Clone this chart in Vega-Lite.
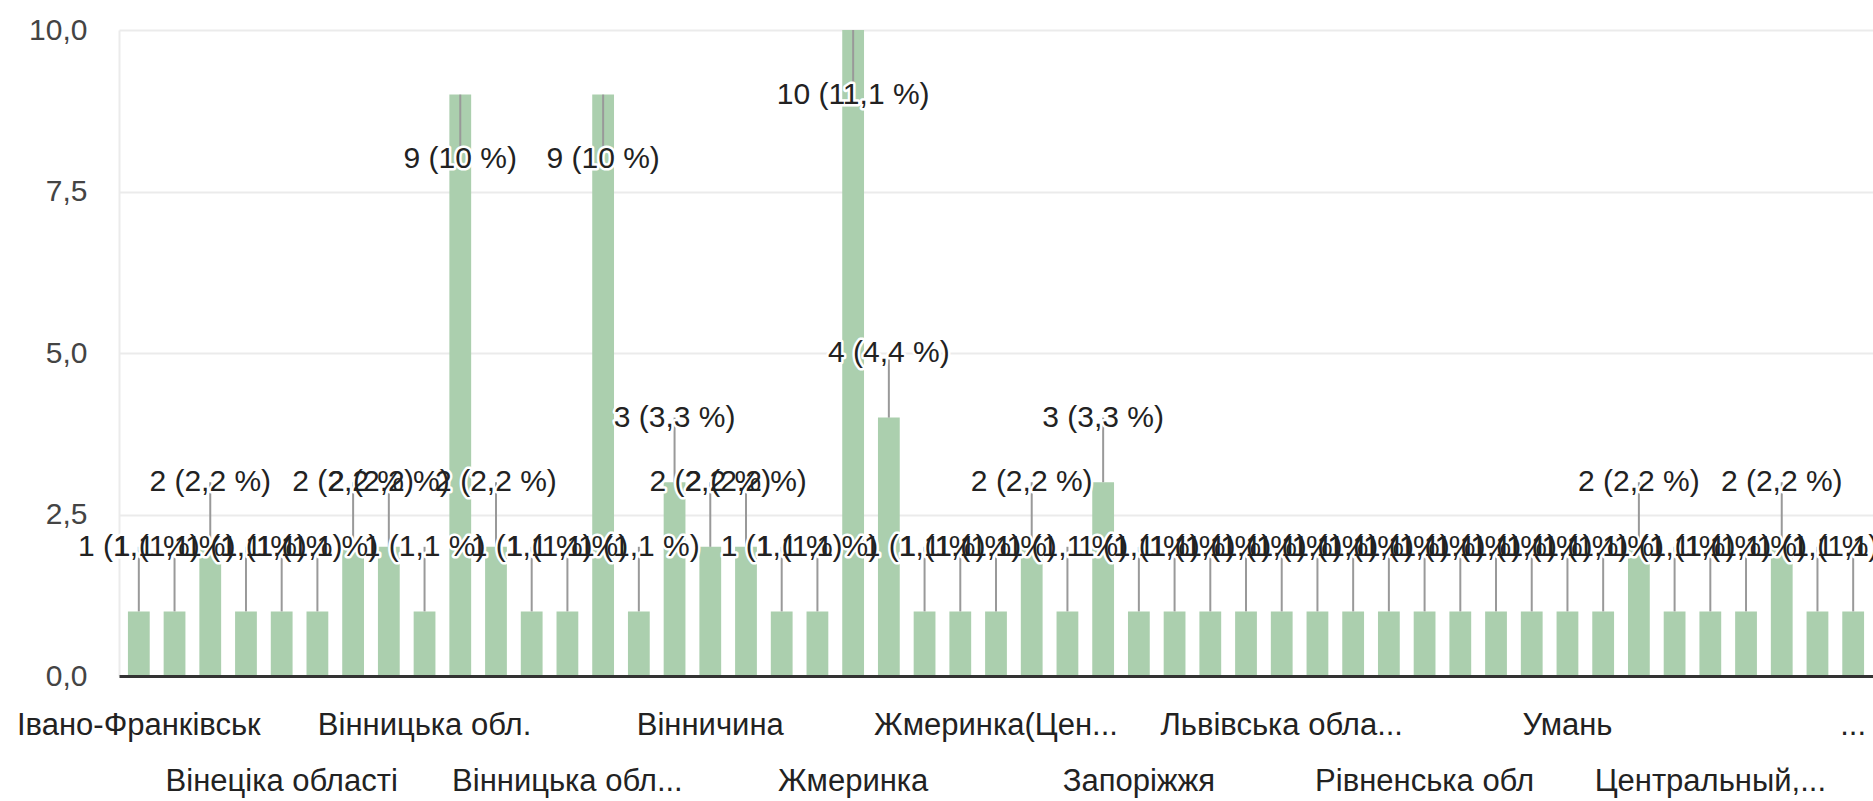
{
  "$schema": "https://vega.github.io/schema/vega-lite/v6.json",
  "width": 1754,
  "height": 646,
  "autosize": {"type": "none"},
  "padding": {"left": 119, "top": 30, "right": 0, "bottom": 125},
  "background": "white",
  "config": {"view": {"stroke": null}, "font": "Liberation Sans, Arial, sans-serif"},
  "data": {"values": [
    {"id": 1, "name": "Івано-Франківськ", "count": 1, "label": "1 (1,1 %)"},
    {"id": 2, "name": "", "count": 1, "label": "1 (1,1 %)"},
    {"id": 3, "name": "", "count": 2, "label": "2 (2,2 %)"},
    {"id": 4, "name": "", "count": 1, "label": "1 (1,1 %)"},
    {"id": 5, "name": "Вінеціка області", "count": 1, "label": "1 (1,1 %)"},
    {"id": 6, "name": "", "count": 1, "label": "1 (1,1 %)"},
    {"id": 7, "name": "", "count": 2, "label": "2 (2,2 %)"},
    {"id": 8, "name": "", "count": 2, "label": "2 (2,2 %)"},
    {"id": 9, "name": "Вінницька обл.", "count": 1, "label": "1 (1,1 %)"},
    {"id": 10, "name": "", "count": 9, "label": "9 (10 %)"},
    {"id": 11, "name": "", "count": 2, "label": "2 (2,2 %)"},
    {"id": 12, "name": "", "count": 1, "label": "1 (1,1 %)"},
    {"id": 13, "name": "Вінницька обл...", "count": 1, "label": "1 (1,1 %)"},
    {"id": 14, "name": "", "count": 9, "label": "9 (10 %)"},
    {"id": 15, "name": "", "count": 1, "label": "1 (1,1 %)"},
    {"id": 16, "name": "", "count": 3, "label": "3 (3,3 %)"},
    {"id": 17, "name": "Вінничина", "count": 2, "label": "2 (2,2 %)"},
    {"id": 18, "name": "", "count": 2, "label": "2 (2,2 %)"},
    {"id": 19, "name": "", "count": 1, "label": "1 (1,1 %)"},
    {"id": 20, "name": "", "count": 1, "label": "1 (1,1 %)"},
    {"id": 21, "name": "Жмеринка", "count": 10, "label": "10 (11,1 %)"},
    {"id": 22, "name": "", "count": 4, "label": "4 (4,4 %)"},
    {"id": 23, "name": "", "count": 1, "label": "1 (1,1 %)"},
    {"id": 24, "name": "", "count": 1, "label": "1 (1,1 %)"},
    {"id": 25, "name": "Жмеринка(Цен...", "count": 1, "label": "1 (1,1 %)"},
    {"id": 26, "name": "", "count": 2, "label": "2 (2,2 %)"},
    {"id": 27, "name": "", "count": 1, "label": "1 (1,1 %)"},
    {"id": 28, "name": "", "count": 3, "label": "3 (3,3 %)"},
    {"id": 29, "name": "Запоріжжя", "count": 1, "label": "1 (1,1 %)"},
    {"id": 30, "name": "", "count": 1, "label": "1 (1,1 %)"},
    {"id": 31, "name": "", "count": 1, "label": "1 (1,1 %)"},
    {"id": 32, "name": "", "count": 1, "label": "1 (1,1 %)"},
    {"id": 33, "name": "Львівська обла...", "count": 1, "label": "1 (1,1 %)"},
    {"id": 34, "name": "", "count": 1, "label": "1 (1,1 %)"},
    {"id": 35, "name": "", "count": 1, "label": "1 (1,1 %)"},
    {"id": 36, "name": "", "count": 1, "label": "1 (1,1 %)"},
    {"id": 37, "name": "Рівненська обл", "count": 1, "label": "1 (1,1 %)"},
    {"id": 38, "name": "", "count": 1, "label": "1 (1,1 %)"},
    {"id": 39, "name": "", "count": 1, "label": "1 (1,1 %)"},
    {"id": 40, "name": "", "count": 1, "label": "1 (1,1 %)"},
    {"id": 41, "name": "Умань", "count": 1, "label": "1 (1,1 %)"},
    {"id": 42, "name": "", "count": 1, "label": "1 (1,1 %)"},
    {"id": 43, "name": "", "count": 2, "label": "2 (2,2 %)"},
    {"id": 44, "name": "", "count": 1, "label": "1 (1,1 %)"},
    {"id": 45, "name": "Центральный,...", "count": 1, "label": "1 (1,1 %)"},
    {"id": 46, "name": "", "count": 1, "label": "1 (1,1 %)"},
    {"id": 47, "name": "", "count": 2, "label": "2 (2,2 %)"},
    {"id": 48, "name": "", "count": 1, "label": "1 (1,1 %)"},
    {"id": 49, "name": "...", "count": 1, "label": "1 (1,1 %)"}
  ]},
  "transform": [
    {"calculate": "datum.count >= 9 ? datum.count - 1 : datum.count + 1", "as": "labelPos"}
  ],
  "encoding": {
    "x": {
      "field": "id",
      "type": "ordinal",
      "sort": null,
      "scale": {"paddingInner": 0.39, "paddingOuter": 0.25},
      "axis": {"labels": false, "ticks": false, "title": null, "grid": false, "domainColor": "#333333", "domainWidth": 3, "zindex": 2}
    }
  },
  "layer": [
    {
      "mark": {"type": "bar", "color": "#abcfae"},
      "encoding": {
        "y": {
          "field": "count",
          "type": "quantitative",
          "scale": {"domain": [0, 10], "nice": false},
          "axis": {
            "values": [0, 2.5, 5, 7.5, 10],
            "labelExpr": "replace(format(datum.value, '.1f'), '.', ',')",
            "labelFontSize": 30,
            "labelColor": "#444444",
            "labelPadding": 32,
            "ticks": false,
            "title": null,
            "domain": true,
            "domainColor": "#ebebeb",
            "domainWidth": 2,
            "gridColor": "#ebebeb",
            "gridWidth": 2
          }
        }
      }
    },
    {
      "mark": {"type": "rule", "color": "#999999", "strokeWidth": 2},
      "encoding": {
        "y": {"field": "count", "type": "quantitative"},
        "y2": {"field": "labelPos"}
      }
    },
    {
      "mark": {"type": "text", "fontSize": 30, "baseline": "middle", "align": "center", "fill": "white", "stroke": "white", "strokeWidth": 5, "strokeJoin": "round"},
      "encoding": {
        "y": {"field": "labelPos", "type": "quantitative"},
        "text": {"field": "label"}
      }
    },
    {
      "mark": {"type": "text", "fontSize": 30, "baseline": "middle", "align": "center", "color": "#222222"},
      "encoding": {
        "y": {"field": "labelPos", "type": "quantitative"},
        "text": {"field": "label"}
      }
    },
    {
      "transform": [{"filter": "datum.id % 8 == 1"}],
      "mark": {"type": "text", "fontSize": 31, "baseline": "middle", "align": "center", "color": "#222222", "dy": 50},
      "encoding": {
        "y": {"datum": 0},
        "text": {"field": "name"}
      }
    },
    {
      "transform": [{"filter": "datum.id % 8 == 5"}],
      "mark": {"type": "text", "fontSize": 31, "baseline": "middle", "align": "center", "color": "#222222", "dy": 106},
      "encoding": {
        "y": {"datum": 0},
        "text": {"field": "name"}
      }
    }
  ]
}
